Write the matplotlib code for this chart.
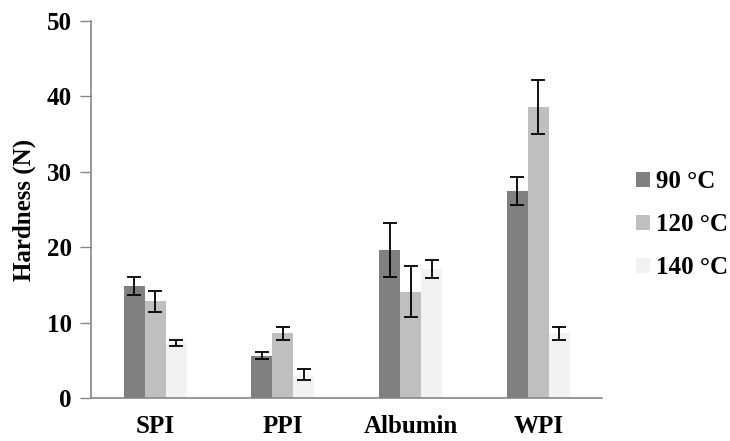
import numpy as np
import matplotlib
matplotlib.use("Agg")
import matplotlib.pyplot as plt

# datos
muestras = ["SPI", "PPI", "Albumin", "WPI"]
series = ["90 °C", "120 °C", "140 °C"]

dureza_90 = [14.8, 5.6, 19.6, 27.4]
dureza_120 = [12.8, 8.6, 14.1, 38.6]
dureza_140 = [7.3, 3.1, 17.1, 8.6]

error_90 = [1.2, 0.45, 3.6, 1.85]
error_120 = [1.4, 0.85, 3.4, 3.6]
error_140 = [0.4, 0.7, 1.25, 0.85]

colores = ["#808080", "#bfbfbf", "#f2f2f2"]

plt.rcParams["font.family"] = ["Liberation Serif", "DejaVu Serif"]
plt.rcParams["font.weight"] = "bold"

fig = plt.figure(figsize=(7.3, 4.41), dpi=100)
ax = fig.add_axes([0.125, 0.0975, 0.70, 0.855])

x = np.arange(len(muestras))
ancho = 0.165

valores = [dureza_90, dureza_120, dureza_140]
errores = [error_90, error_120, error_140]

for i in range(3):
    ax.bar(
        x + (i - 1) * ancho,
        valores[i],
        ancho,
        color=colores[i],
        label=series[i],
        yerr=errores[i],
        error_kw=dict(ecolor="black", elinewidth=1.3, capsize=5, capthick=1.3),
        zorder=2
    )

ax.set_xlim(-0.5, len(muestras) - 0.5)
ax.set_ylim(0, 50)
ax.set_yticks(range(0, 51, 10))
ax.set_xticks(x)
ax.set_xticklabels(muestras, fontsize=18, fontweight="bold")
ax.tick_params(axis="x", length=0, pad=12)
ax.tick_params(axis="y", length=8, width=1, color="#868686", labelsize=18, pad=6)
for t in ax.get_yticklabels():
    t.set_fontweight("bold")

ax.set_ylabel("Hardness (N)", fontsize=18, fontweight="bold", labelpad=8)

for lado in ["top", "right"]:
    ax.spines[lado].set_visible(False)
for lado in ["left", "bottom"]:
    ax.spines[lado].set_color("#868686")
    ax.spines[lado].set_linewidth(1.2)

ax.legend(
    loc="center left",
    bbox_to_anchor=(1.067, 0.46),
    frameon=False,
    borderaxespad=0,
    borderpad=0,
    handlelength=0.55,
    handleheight=0.55,
    handletextpad=0.25,
    labelspacing=0.8,
    prop={"weight": "bold", "size": 18}
)

fig.savefig("out.png", dpi=100)
